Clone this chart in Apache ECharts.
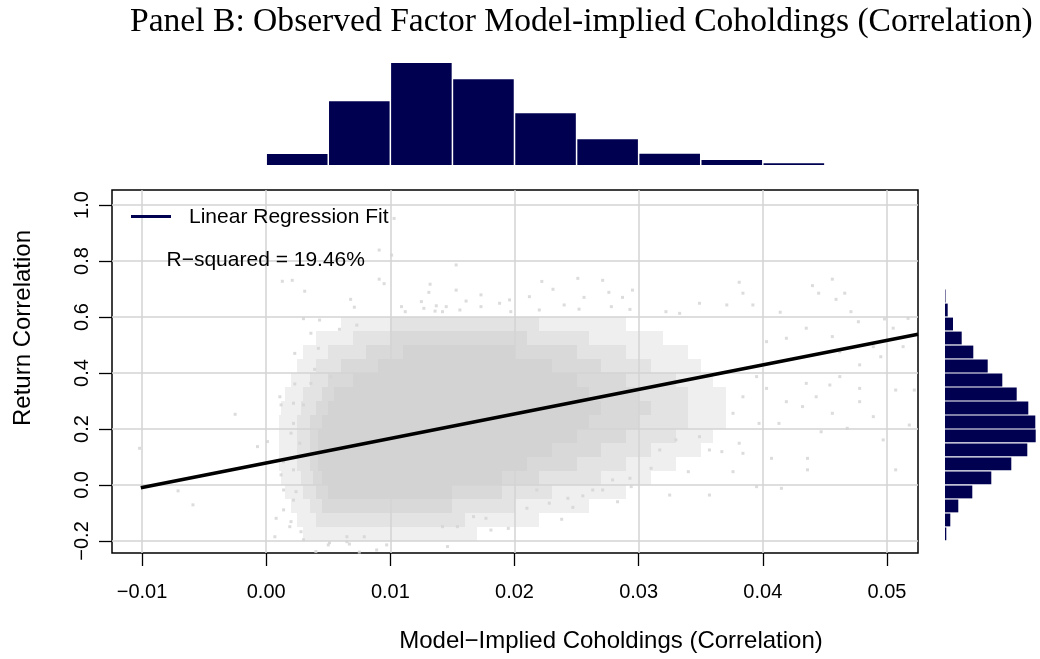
<!DOCTYPE html>
<html><head><meta charset="utf-8">
<script src="https://cdn.jsdelivr.net/npm/echarts@6/dist/echarts.min.js"></script>
<style>html,body{margin:0;padding:0;background:#fff}#c{width:1040px;height:659px}</style>
</head><body><div id="c"></div>
<script>
// ---------- DATA ----------
const xTicks = [-0.01, 0, 0.01, 0.02, 0.03, 0.04, 0.05];
const yTicks = [-0.2, 0, 0.2, 0.4, 0.6, 0.8, 1.0];

// top marginal histogram (model-implied coholdings)
const topHistEdges = [0, 0.005, 0.01, 0.015, 0.02, 0.025, 0.03, 0.035, 0.04, 0.045];
const topHistCounts = [110, 637, 1020, 857, 517, 257, 113, 50, 18];

// right marginal histogram (return correlation), bottom to top
const rightHistEdges = [-0.2, -0.15, -0.1, -0.05, 0, 0.05, 0.1, 0.15, 0.2, 0.25, 0.3, 0.35, 0.4, 0.45, 0.5, 0.55, 0.6, 0.65, 0.7];
const rightHistCounts = [13, 53, 133, 273, 463, 663, 823, 907, 903, 833, 717, 573, 427, 283, 167, 80, 27, 5];

// regression fit line end points
const fitLine = [[-0.0101, -0.010], [0.0525, 0.538]];
const rSquaredText = 'R\u2212squared = 19.46%';

// dense point cloud, read as density bands per 0.05 row of return correlation
const cloudEdges = [-0.2, -0.15, -0.1, -0.05, 0, 0.05, 0.1, 0.15, 0.2, 0.25, 0.3, 0.35, 0.4, 0.45, 0.5, 0.55, 0.6];
const cloudSparse = [[0.003,0.017],[0.0025,0.022],[0.002,0.026],[0.0015,0.029],[0.0012,0.031],[0.001,0.033],[0.001,0.035],[0.001,0.036],[0.001,0.037],[0.0012,0.037],[0.0015,0.037],[0.002,0.036],[0.0025,0.035],[0.003,0.034],[0.004,0.032],[0.006,0.029]];
const cloudMedium = [null,[0.004,0.016],[0.0035,0.020],[0.003,0.023],[0.0028,0.027],[0.0025,0.029],[0.0025,0.031],[0.0025,0.033],[0.0025,0.034],[0.0028,0.034],[0.003,0.034],[0.0035,0.033],[0.004,0.031],[0.005,0.029],[0.007,0.026],[0.010,0.022]];
const cloudDense = [null,null,[0.0045,0.015],[0.004,0.019],[0.0038,0.022],[0.0035,0.025],[0.0035,0.027],[0.0035,0.029],[0.0035,0.030],[0.004,0.031],[0.0045,0.030],[0.005,0.029],[0.006,0.027],[0.008,0.025],[0.010,0.021],null];
const cloudSolid = [null,null,null,[0.005,0.015],[0.0045,0.019],[0.0042,0.021],[0.0042,0.023],[0.0042,0.025],[0.0045,0.026],[0.005,0.027],[0.0055,0.026],[0.007,0.025],[0.009,0.023],[0.011,0.020],null,null];

// individual scattered points outside the dense cloud
const outlierPoints = [
[-0.0102,0.131],[-0.0025,0.2525],[-0.0007,0.137],[-0.0071,-0.021],[-0.0059,-0.071],
[0.0013,0.7275],[0.0021,0.731],[0.0031,0.692],[0.0091,0.735],[0.0095,0.719],[0.0068,0.663],[0.0071,0.635],[0.0030,0.594],[0.0043,0.589],[0.0036,0.542],[0.0023,0.470],[0.0042,0.488],[0.0059,0.556],[0.0073,0.571],[0.0039,0.413],[0.0052,0.387],[0.0023,0.361],[0.0036,0.363],[0.0011,0.315],[0.0132,0.717],[0.0131,0.688],[0.0125,0.655],[0.0109,0.637],[0.0112,0.619],[0.0127,0.631],[0.0137,0.640],[0.0142,0.619],[0.0136,0.621],[0.0091,0.839],[0.0101,0.821],[0.0103,0.952],
[0.0153,0.786],[0.0153,0.696],[0.0173,0.679],[0.0222,0.727],[0.0251,0.738],[0.0271,0.731],[0.0231,0.699],[0.0276,0.688],[0.0295,0.696],[0.0161,0.657],[0.0196,0.661],[0.0212,0.6725],[0.0256,0.670],[0.0287,0.670],[0.0145,0.637],[0.0156,0.625],[0.0173,0.637],[0.0188,0.649],[0.0197,0.619],[0.0220,0.625],[0.0240,0.643],[0.0252,0.628],[0.0278,0.637],[0.0293,0.627],
[0.0381,0.724],[0.0440,0.712],[0.0456,0.735],[0.0466,0.685],[0.0445,0.685],[0.0459,0.663],[0.0471,0.619],[0.0414,0.617],[0.0384,0.685],[0.0349,0.649],[0.0371,0.643],[0.0392,0.643],[0.0322,0.619],[0.0333,0.613],
[0.0477,0.583],[0.0498,0.593],[0.0517,0.595],[0.0505,0.560],[0.0513,0.494],[0.0489,0.494],[0.0456,0.530],[0.0435,0.560],[0.0419,0.524],[0.0403,0.512],[0.0462,0.476],[0.0478,0.429],[0.0495,0.458],[0.0507,0.339],[0.0522,0.339],[0.0478,0.345],[0.0462,0.387],[0.0454,0.357],[0.0435,0.363],[0.0443,0.315],[0.0456,0.256],[0.0478,0.2975],[0.0489,0.244],[0.0518,0.214],[0.0497,0.161],[0.0507,0.054],[0.0436,0.095],[0.0436,0.054],[0.0468,0.2025],[0.0447,0.19],[0.0432,0.28],[0.0419,0.2975],[0.0413,0.220],[0.0403,0.345],[0.0395,0.387],[0.0384,0.315],[0.0376,0.256],[0.0397,0.220],[0.0381,0.149],[0.0384,0.113],[0.0376,0.0475],[0.0407,0.095],[0.0415,-0.012],[0.0395,-0.006],[0.0357,-0.036],[0.0340,0.0475],[0.0357,0.125],[0.0367,0.119],[0.0349,0.1725],[0.0330,0.161],[0.0317,0.125],[0.0310,0.0595],[0.0325,-0.036],
[0.0146,-0.220],[0.0142,-0.149],[0.0154,-0.149],[0.0181,-0.161],[0.0195,-0.155],[0.0238,-0.1225],[0.0210,-0.083],[0.0228,-0.065],[0.0247,-0.08],[0.0283,-0.06],[0.0218,-0.018],[0.0243,-0.0475],[0.0255,-0.039],[0.0263,-0.018],[0.0271,-0.018],[0.0293,0.024],[0.0294,-0.006],[0.0279,0.018],[0.0167,-0.113],[0.0177,-0.119],
[0.0014,-0.089],[0.0008,-0.119],[0.0019,-0.149],[0.0040,-0.238],[0.0050,-0.214],[0.0075,-0.240],[0.0097,-0.214],[0.0067,-0.211],[0.0065,-0.185],[0.0079,-0.185],[0.0030,-0.196],[0.0001,0.155],[0.0012,0.036],[0.0022,0.054],[0.0014,0.083],[0.0022,0.220],[0.0012,0.286],[0.0022,0.292],[0.0030,0.286],[0.0020,0.185],[0.0027,0.149],[0.0014,-0.018],[0.0022,-0.054],[0.0007,-0.185],
[0.0024,-0.024],[0.0028,-0.167],[0.0020,-0.131],[0.0051,-0.206],[0.0089,-0.232],[0.0065,-0.2025]
];

// ---------- BUILD ----------
const X_MIN = -0.01242, X_MAX = 0.0525, Y_MIN = -0.243, Y_MAX = 1.0536;
const NAVY = '#000050';
const PT = '#d3d3d3';
const levelColors = ['#efefef', '#e3e3e3', '#d9d9d9', '#d3d3d3'];

const cloudData = [];
[cloudSparse, cloudMedium, cloudDense, cloudSolid].forEach((band, lvl) => {
  band.forEach((iv, i) => {
    if (iv) cloudData.push([iv[0], iv[1], cloudEdges[i], cloudEdges[i + 1], lvl]);
  });
});
const topHistData = topHistCounts.map((c, i) => [topHistEdges[i], topHistEdges[i + 1], c]);
const rightHistData = rightHistCounts.map((c, i) => [rightHistEdges[i], rightHistEdges[i + 1], c]);

const fmtX = v => (v < 0 ? '\u2212' : '') + Math.abs(v).toFixed(2);
const fmtY = v => (v < 0 ? '\u2212' : '') + Math.abs(v).toFixed(1);
const SANS = '"Liberation Sans", Arial, sans-serif';

const chart = echarts.init(document.getElementById('c'), null, { renderer: 'canvas' });
chart.setOption({
  animation: false,
  backgroundColor: '#fff',
  grid: [
    { left: 112, top: 190, width: 806, height: 363, show: true, borderColor: '#000', borderWidth: 1.5, backgroundColor: 'transparent', outerBoundsMode: 'none', containLabel: false },
    { left: 112, top: 60, width: 806, height: 105, outerBoundsMode: 'none', containLabel: false },
    { left: 945, top: 190, width: 95, height: 363, outerBoundsMode: 'none', containLabel: false }
  ],
  xAxis: [
    { gridIndex: 0, type: 'value', min: X_MIN, max: X_MAX, position: 'bottom',
      axisLine: { show: false, onZero: false },
      axisTick: { show: true, customValues: xTicks, length: 13, lineStyle: { color: '#000', width: 1.3 } },
      axisLabel: { customValues: xTicks, formatter: fmtX, fontSize: 20, fontFamily: SANS, color: '#000', margin: 29 },
      splitLine: { show: false } },
    { gridIndex: 1, type: 'value', min: X_MIN, max: X_MAX, show: false, splitLine: { show: false } },
    { gridIndex: 2, type: 'value', min: 0, max: 950, show: false, splitLine: { show: false } }
  ],
  yAxis: [
    { gridIndex: 0, type: 'value', min: Y_MIN, max: Y_MAX, position: 'left',
      axisLine: { show: false, onZero: false },
      axisTick: { show: true, customValues: yTicks, length: 13, lineStyle: { color: '#000', width: 1.3 } },
      axisLabel: { customValues: yTicks, formatter: fmtY, fontSize: 20, fontFamily: SANS, color: '#000', rotate: 90, margin: 20 },
      splitLine: { show: false } },
    { gridIndex: 1, type: 'value', min: 0, max: 1050, show: false, splitLine: { show: false } },
    { gridIndex: 2, type: 'value', min: Y_MIN, max: Y_MAX, show: false, splitLine: { show: false } }
  ],
  series: [
    { type: 'custom', name: 'cloud', xAxisIndex: 0, yAxisIndex: 0, z: 1, clip: true, silent: true,
      data: cloudData,
      renderItem: function (params, api) {
        const a = api.coord([api.value(0), api.value(3)]);
        const b = api.coord([api.value(1), api.value(2)]);
        const x0 = Math.round(a[0]), y0 = Math.round(a[1]), x1 = Math.round(b[0]), y1 = Math.round(b[1]);
        return { type: 'rect', shape: { x: x0, y: y0, width: x1 - x0, height: y1 - y0 },
          style: { fill: levelColors[api.value(4)] } };
      } },
    { type: 'scatter', name: 'points', xAxisIndex: 0, yAxisIndex: 0, z: 2, silent: true,
      data: outlierPoints, symbol: 'rect', symbolSize: 3, itemStyle: { color: PT },
      markLine: { silent: true, symbol: 'none', label: { show: false }, animation: false,
        lineStyle: { color: PT, width: 1.5, type: 'solid' },
        data: xTicks.map(v => ({ xAxis: v })).concat(yTicks.map(v => ({ yAxis: v }))) } },
    { type: 'line', name: 'Linear Regression Fit', xAxisIndex: 0, yAxisIndex: 0, z: 5, silent: true,
      data: fitLine, showSymbol: false, symbol: 'none', clip: true,
      lineStyle: { color: '#000', width: 3.6 } },
    { type: 'custom', name: 'topHist', xAxisIndex: 1, yAxisIndex: 1, silent: true,
      data: topHistData,
      renderItem: function (params, api) {
        const a = api.coord([api.value(0), api.value(2)]);
        const b = api.coord([api.value(1), 0]);
        return { type: 'rect', shape: { x: a[0] + 0.75, y: a[1], width: b[0] - a[0] - 1.5, height: b[1] - a[1] },
          style: { fill: NAVY } };
      } },
    { type: 'custom', name: 'rightHist', xAxisIndex: 2, yAxisIndex: 2, silent: true,
      data: rightHistData,
      renderItem: function (params, api) {
        const a = api.coord([0, api.value(1)]);
        const b = api.coord([api.value(2), api.value(0)]);
        return { type: 'rect', shape: { x: a[0], y: a[1] + 0.6, width: b[0] - a[0], height: b[1] - a[1] - 1.2 },
          style: { fill: NAVY } };
      } }
  ],
  graphic: [
    { type: 'text', left: 130, top: 5, z: 10,
      style: { text: 'Panel B: Observed Factor Model-implied Coholdings (Correlation)', font: '33.6px "Liberation Serif", "Times New Roman", serif', fill: '#000' } },
    { type: 'line', z: 10, shape: { x1: 131, y1: 216.5, x2: 171, y2: 216.5 }, style: { stroke: NAVY, lineWidth: 3 } },
    { type: 'text', z: 10, x: 189, y: 217, style: { text: 'Linear Regression Fit', font: '21px ' + SANS, fill: '#000', textVerticalAlign: 'middle', verticalAlign: 'middle' } },
    { type: 'text', z: 10, x: 166.5, y: 260, style: { text: rSquaredText, font: '21px ' + SANS, fill: '#000', textVerticalAlign: 'middle', verticalAlign: 'middle' } },
    { type: 'text', z: 10, x: 611, y: 641, style: { text: 'Model\u2212Implied Coholdings (Correlation)', font: '24px ' + SANS, fill: '#000', align: 'center', verticalAlign: 'middle', textAlign: 'center', textVerticalAlign: 'middle' } },
    { type: 'text', z: 10, x: 23, y: 328, rotation: Math.PI / 2, style: { text: 'Return Correlation', font: '24px ' + SANS, fill: '#000', align: 'center', verticalAlign: 'middle', textAlign: 'center', textVerticalAlign: 'middle' } }
  ]
});
</script>
</body></html>
